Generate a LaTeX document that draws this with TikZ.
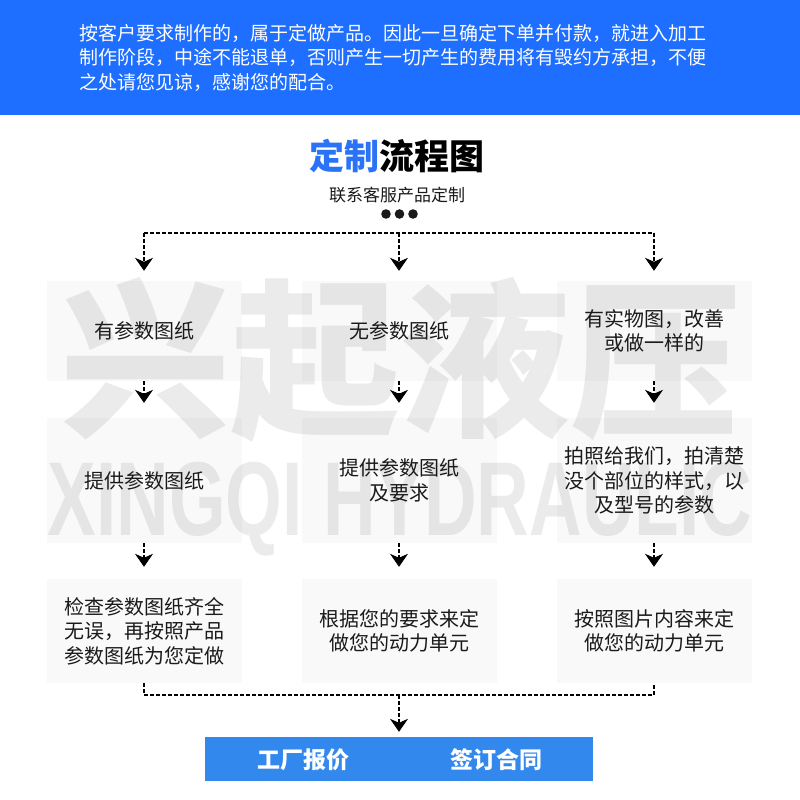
\documentclass[tikz,border=0pt]{standalone}
\usepackage{fontspec}
\setmainfont{Noto Sans CJK SC}
\newfontfamily\latinbold{Liberation Sans}
\usetikzlibrary{arrows.meta}
\definecolor{topblue}{HTML}{1E6EFF}
\definecolor{barblue}{HTML}{3388EE}
\definecolor{titleblue}{HTML}{2A72F6}
\definecolor{wmgray}{HTML}{EBEBEB}
\definecolor{ink}{HTML}{1A1A1A}
\tikzset{
  stepbox/.style={fill=black, fill opacity=0.025, text opacity=1, minimum width=195pt,
    inner sep=0pt, align=center, text=ink, font=\fontsize{20}{24.5}\selectfont},
  flow/.style={draw=black, line width=1.1pt, dash pattern=on 4pt off 2pt},
  arr/.style={flow, -{Stealth[length=13pt,width=18pt,inset=4pt]}},
  wmark/.style={inner sep=0pt, text=wmgray}
}
\begin{document}
\begin{tikzpicture}[x=1pt,y=-1pt]
\useasboundingbox (0,0) rectangle (800,800);
\fill[white] (0,0) rectangle (800,800);
% banner
\node[fill=topblue, minimum width=800pt, minimum height=115pt, anchor=north west, inner sep=0pt] (banner) at (0,0) {};
\node[anchor=west, inner sep=0pt, align=left, text=white, font=\fontsize{19}{24.5}\selectfont] (note) at (79,57.5)
  {按客户要求制作的，属于定做产品。因此一旦确定下单并付款，就进入加工\\
   制作阶段，中途不能退单，否则产生一切产生的费用将有毁约方承担，不便\\
   之处请您见谅，感谢您的配合。};
% title
\node[inner sep=0pt, font=\bfseries\fontsize{35}{35}\selectfont, text=black] (title) at (397,156)
  {\textcolor{titleblue}{定制}流程图};
\node[inner sep=0pt, font=\fontsize{17}{17}\selectfont, text=ink] (sub) at (397,195) {联系客服产品定制};
\fill[ink] (386,214) circle (4.8pt) (399.5,214) circle (4.8pt) (413,214) circle (4.8pt);
% watermark
\node[wmark, anchor=base west, font=\bfseries\fontsize{170}{170}\selectfont] (wm) at (60,423) {兴起液压};
\node[wmark, anchor=base, xscale=0.694, font=\latinbold\bfseries\fontsize{105}{105}\selectfont] (wm2) at (400,535) {XINGQI HYDRAULIC};
% boxes
\node[stepbox, minimum height=100pt] (r1c1) at (144,331) {有参数图纸};
\node[stepbox, minimum height=100pt] (r1c2) at (399,331) {无参数图纸};
\node[stepbox, minimum height=100pt] (r1c3) at (654,331) {有实物图，改善\\或做一样的};
\node[stepbox, minimum height=125pt] (r2c1) at (144,480.5) {提供参数图纸};
\node[stepbox, minimum height=125pt] (r2c2) at (399,480.5) {提供参数图纸\\及要求};
\node[stepbox, minimum height=125pt] (r2c3) at (654,480.5) {拍照给我们，拍清楚\\没个部位的样式，以\\及型号的参数};
\node[stepbox, minimum height=104pt] (r3c1) at (144,631) {检查参数图纸齐全\\无误，再按照产品\\参数图纸为您定做};
\node[stepbox, minimum height=104pt] (r3c2) at (399,631) {根据您的要求来定\\做您的动力单元};
\node[stepbox, minimum height=104pt] (r3c3) at (654,631) {按照图片内容来定\\做您的动力单元};
% bottom bar
\node[fill=barblue, minimum width=388pt, minimum height=44pt, inner sep=0pt] (bar) at (399,759) {};
\node[inner sep=0pt, text=white, font=\bfseries\fontsize{23}{23}\selectfont] (q1) at (303,760) {工厂报价};
\node[inner sep=0pt, text=white, font=\bfseries\fontsize{23}{23}\selectfont] (q2) at (496,760) {签订合同};
% connectors
\coordinate (tl) at (144,233);
\coordinate (tm) at (399,233);
\coordinate (tr) at (654,233);
\draw[flow] (tl) -- (tr);
\draw[arr, shorten >=10pt] (tl) -- (r1c1.north);
\draw[arr, shorten >=10pt] (tm) -- (r1c2.north);
\draw[arr, shorten >=10pt] (tr) -- (r1c3.north);
\draw[arr, shorten >=15pt] (r1c1) -- (r2c1);
\draw[arr, shorten >=15pt] (r1c2) -- (r2c2);
\draw[arr, shorten >=15pt] (r1c3) -- (r2c3);
\draw[arr, shorten >=12pt] (r2c1) -- (r3c1);
\draw[arr, shorten >=12pt] (r2c2) -- (r3c2);
\draw[arr, shorten >=12pt] (r2c3) -- (r3c3);
\coordinate (bl) at (144,695);
\coordinate (bm) at (399,695);
\coordinate (br) at (654,695);
\draw[flow] (r3c1.south) -- (bl) -- (br) -- (r3c3.south);
\draw[arr, shorten >=5pt] (bm) -- (bar.north);
\end{tikzpicture}
\end{document}
